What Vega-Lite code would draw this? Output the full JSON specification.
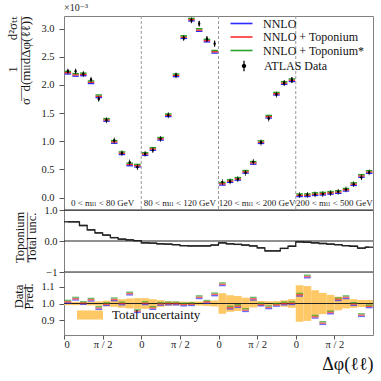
{
  "$schema": "https://vega.github.io/schema/vega-lite/v6.json",
  "padding": {"left": 6, "top": 2, "right": 5, "bottom": 2},
  "background": "white",
  "spacing": 0,
  "bounds": "flush",
  "config": {
    "font": "Liberation Serif, DejaVu Serif, serif",
    "view": {"stroke": "#808080", "strokeWidth": 1},
    "text": {"font": "Liberation Serif, DejaVu Serif, serif"},
    "title": {"font": "Liberation Serif, DejaVu Serif, serif"},
    "axis": {"labelFont": "Liberation Serif, DejaVu Serif, serif", "titleFont": "Liberation Serif, DejaVu Serif, serif", "labelColor": "#222", "titleColor": "#111", "tickColor": "#555", "domain": false, "grid": false, "labelFontSize": 10.5, "titleFontWeight": "normal", "tickSize": 5, "labelPadding": 2},
    "legend": {"labelFont": "Liberation Serif, DejaVu Serif, serif", "labelColor": "#111"}
  },
  "datasets": {
    "bins": [
      {"x": 0.5, "lo": 0, "hi": 1, "d": 2.243, "e": 0.03, "p": 2.219, "r": 1.011, "ulo": 0.990, "uhi": 1.010, "t": 0.62},
      {"x": 1.5, "lo": 1, "hi": 2, "d": 2.243, "e": 0.03, "p": 2.180, "r": 1.029, "ulo": 0.990, "uhi": 1.010, "t": 0.62},
      {"x": 2.5, "lo": 2, "hi": 3, "d": 2.195, "e": 0.03, "p": 2.188, "r": 1.003, "ulo": 0.990, "uhi": 1.010, "t": 0.50},
      {"x": 3.5, "lo": 3, "hi": 4, "d": 2.096, "e": 0.03, "p": 2.049, "r": 1.023, "ulo": 0.989, "uhi": 1.011, "t": 0.36},
      {"x": 4.5, "lo": 4, "hi": 5, "d": 1.752, "e": 0.03, "p": 1.800, "r": 0.973, "ulo": 0.987, "uhi": 1.013, "t": 0.26},
      {"x": 5.5, "lo": 5, "hi": 6, "d": 1.374, "e": 0.03, "p": 1.380, "r": 0.996, "ulo": 0.983, "uhi": 1.017, "t": 0.19},
      {"x": 6.5, "lo": 6, "hi": 7, "d": 1.014, "e": 0.025, "p": 0.989, "r": 1.025, "ulo": 0.980, "uhi": 1.020, "t": 0.11},
      {"x": 7.5, "lo": 7, "hi": 8, "d": 0.789, "e": 0.025, "p": 0.789, "r": 1.000, "ulo": 0.974, "uhi": 1.026, "t": 0.06},
      {"x": 8.5, "lo": 8, "hi": 9, "d": 0.624, "e": 0.022, "p": 0.589, "r": 1.060, "ulo": 0.970, "uhi": 1.030, "t": 0.035},
      {"x": 9.5, "lo": 9, "hi": 10, "d": 0.541, "e": 0.022, "p": 0.567, "r": 0.954, "ulo": 0.968, "uhi": 1.032, "t": 0.01},
      {"x": 10.5, "lo": 10, "hi": 11, "d": 0.777, "e": 0.025, "p": 0.775, "r": 1.002, "ulo": 0.968, "uhi": 1.032, "t": -0.06},
      {"x": 11.5, "lo": 11, "hi": 12, "d": 0.842, "e": 0.025, "p": 0.865, "r": 0.973, "ulo": 0.974, "uhi": 1.026, "t": -0.07},
      {"x": 12.5, "lo": 12, "hi": 13, "d": 1.043, "e": 0.025, "p": 1.045, "r": 0.998, "ulo": 0.980, "uhi": 1.020, "t": -0.09},
      {"x": 13.5, "lo": 13, "hi": 14, "d": 1.463, "e": 0.025, "p": 1.463, "r": 1.000, "ulo": 0.986, "uhi": 1.014, "t": -0.10},
      {"x": 14.5, "lo": 14, "hi": 15, "d": 2.172, "e": 0.03, "p": 2.172, "r": 1.000, "ulo": 0.988, "uhi": 1.012, "t": -0.12},
      {"x": 15.5, "lo": 15, "hi": 16, "d": 2.833, "e": 0.035, "p": 2.850, "r": 0.994, "ulo": 0.989, "uhi": 1.011, "t": -0.15},
      {"x": 16.5, "lo": 16, "hi": 17, "d": 3.147, "e": 0.04, "p": 3.160, "r": 0.996, "ulo": 0.989, "uhi": 1.011, "t": -0.16},
      {"x": 17.5, "lo": 17, "hi": 18, "d": 3.089, "e": 0.045, "p": 2.976, "r": 1.038, "ulo": 0.988, "uhi": 1.012, "t": -0.16},
      {"x": 18.5, "lo": 18, "hi": 19, "d": 2.816, "e": 0.045, "p": 2.788, "r": 1.010, "ulo": 0.985, "uhi": 1.015, "t": -0.16},
      {"x": 19.5, "lo": 19, "hi": 20, "d": 2.734, "e": 0.05, "p": 2.590, "r": 1.055, "ulo": 0.982, "uhi": 1.018, "t": -0.13},
      {"x": 20.5, "lo": 20, "hi": 21, "d": 0.275, "e": 0.02, "p": 0.246, "r": 1.116, "ulo": 0.938, "uhi": 1.062, "t": -0.06},
      {"x": 21.5, "lo": 21, "hi": 22, "d": 0.287, "e": 0.02, "p": 0.294, "r": 0.975, "ulo": 0.950, "uhi": 1.050, "t": -0.09},
      {"x": 22.5, "lo": 22, "hi": 23, "d": 0.328, "e": 0.02, "p": 0.333, "r": 0.985, "ulo": 0.955, "uhi": 1.045, "t": -0.11},
      {"x": 23.5, "lo": 23, "hi": 24, "d": 0.440, "e": 0.02, "p": 0.458, "r": 0.960, "ulo": 0.965, "uhi": 1.035, "t": -0.13},
      {"x": 24.5, "lo": 24, "hi": 25, "d": 0.635, "e": 0.02, "p": 0.617, "r": 1.029, "ulo": 0.976, "uhi": 1.024, "t": -0.16},
      {"x": 25.5, "lo": 25, "hi": 26, "d": 0.979, "e": 0.022, "p": 0.985, "r": 0.994, "ulo": 0.985, "uhi": 1.015, "t": -0.22},
      {"x": 26.5, "lo": 26, "hi": 27, "d": 1.404, "e": 0.025, "p": 1.437, "r": 0.977, "ulo": 0.987, "uhi": 1.013, "t": -0.32},
      {"x": 27.5, "lo": 27, "hi": 28, "d": 1.830, "e": 0.03, "p": 1.845, "r": 0.992, "ulo": 0.986, "uhi": 1.014, "t": -0.32},
      {"x": 28.5, "lo": 28, "hi": 29, "d": 2.035, "e": 0.04, "p": 2.035, "r": 1.000, "ulo": 0.981, "uhi": 1.019, "t": -0.24},
      {"x": 29.5, "lo": 29, "hi": 30, "d": 2.089, "e": 0.05, "p": 2.085, "r": 1.002, "ulo": 0.974, "uhi": 1.026, "t": -0.17},
      {"x": 30.5, "lo": 30, "hi": 31, "d": 0.044, "e": 0.006, "p": 0.042, "r": 1.053, "ulo": 0.890, "uhi": 1.110, "t": -0.03},
      {"x": 31.5, "lo": 31, "hi": 32, "d": 0.050, "e": 0.006, "p": 0.043, "r": 1.163, "ulo": 0.895, "uhi": 1.105, "t": -0.04},
      {"x": 32.5, "lo": 32, "hi": 33, "d": 0.057, "e": 0.006, "p": 0.062, "r": 0.920, "ulo": 0.920, "uhi": 1.080, "t": -0.06},
      {"x": 33.5, "lo": 33, "hi": 34, "d": 0.062, "e": 0.006, "p": 0.070, "r": 0.882, "ulo": 0.936, "uhi": 1.064, "t": -0.08},
      {"x": 34.5, "lo": 34, "hi": 35, "d": 0.080, "e": 0.006, "p": 0.085, "r": 0.946, "ulo": 0.948, "uhi": 1.052, "t": -0.10},
      {"x": 35.5, "lo": 35, "hi": 36, "d": 0.103, "e": 0.006, "p": 0.100, "r": 1.026, "ulo": 0.959, "uhi": 1.041, "t": -0.12},
      {"x": 36.5, "lo": 36, "hi": 37, "d": 0.145, "e": 0.007, "p": 0.140, "r": 1.038, "ulo": 0.970, "uhi": 1.030, "t": -0.15},
      {"x": 37.5, "lo": 37, "hi": 38, "d": 0.239, "e": 0.008, "p": 0.240, "r": 0.997, "ulo": 0.974, "uhi": 1.026, "t": -0.17},
      {"x": 38.5, "lo": 38, "hi": 39, "d": 0.358, "e": 0.01, "p": 0.385, "r": 0.930, "ulo": 0.979, "uhi": 1.021, "t": -0.23},
      {"x": 39.5, "lo": 39, "hi": 40, "d": 0.447, "e": 0.012, "p": 0.455, "r": 0.983, "ulo": 0.979, "uhi": 1.021, "t": -0.20}
    ],
    "regions": [
      {"mid": 5, "label": "0 < mₗₗ < 80 GeV"},
      {"mid": 15, "label": "80 < mₗₗ < 120 GeV"},
      {"mid": 25, "label": "120 < mₗₗ < 200 GeV"},
      {"mid": 35, "label": "200 < mₗₗ < 500 GeV"}
    ],
    "bounds": [{"b": 10}, {"b": 20}, {"b": 30}],
    "refsMid": [{"v": -1}, {"v": 0}, {"v": 1}],
    "refsBot": [{"v": 1}]
  },
  "vconcat": [
    {
      "width": 309,
      "height": 194,
      "title": {"text": "×10⁻³", "anchor": "start", "frame": "group", "fontSize": 10, "fontWeight": "normal", "offset": 3, "color": "#222"},
      "layer": [
        {
          "data": {"name": "bounds"},
          "mark": {"type": "rule", "strokeDash": [3, 2], "color": "#999", "strokeWidth": 1},
          "encoding": {"x": {"field": "b", "type": "quantitative", "scale": {"domain": [0, 40], "nice": false, "zero": false}, "axis": null}}
        },
        {
          "data": {"name": "regions"},
          "mark": {"type": "text", "fontSize": 9, "baseline": "alphabetic", "color": "#222"},
          "encoding": {
            "x": {"field": "mid", "type": "quantitative", "scale": {"domain": [0, 40], "nice": false, "zero": false}, "axis": null},
            "y": {"datum": -0.15, "type": "quantitative", "scale": {"domain": [-0.22, 3.225], "nice": false, "zero": false}, "axis": {"values": [0, 0.5, 1, 1.5, 2, 2.5, 3], "format": ".1f", "labelPadding": 5, "title": ["1\u2003\u2003d²σₜₜ\u2003\u2003", "—\u2002—————", "σ\u2002d(mₗₗdΔφ(ℓℓ))"], "titleAnchor": "end", "titleFontSize": 13, "titleLineHeight": 6.5, "titlePadding": 8}},
            "text": {"field": "label"}
          }
        },
        {
          "data": {"name": "bins"},
          "mark": {"type": "rule", "strokeWidth": 1.4, "xOffset": 0.6, "x2Offset": -0.6, "yOffset": 1.3},
          "encoding": {
            "x": {"field": "lo", "type": "quantitative", "scale": {"domain": [0, 40], "nice": false, "zero": false}, "axis": null},
            "x2": {"field": "hi"},
            "y": {"field": "p", "type": "quantitative", "scale": {"domain": [-0.22, 3.225], "nice": false, "zero": false}, "axis": {"values": [0, 0.5, 1, 1.5, 2, 2.5, 3], "format": ".1f", "labelPadding": 5, "title": ["1\u2003\u2003d²σₜₜ\u2003\u2003", "—\u2002—————", "σ\u2002d(mₗₗdΔφ(ℓℓ))"], "titleAnchor": "end", "titleFontSize": 13, "titleLineHeight": 6.5, "titlePadding": 8}},
            "color": {
              "datum": "NNLO", "type": "nominal",
              "scale": {"domain": ["NNLO", "NNLO + Toponium", "NNLO + Toponium*"], "range": ["#2b2bff", "#ff2b2b", "#2ca02c"]},
              "legend": {
                "orient": "none", "legendX": 171, "legendY": 1, "title": null, "padding": 0,
                "symbolType": "M-2,0H2", "symbolSize": 121, "symbolStrokeWidth": 1.6,
                "labelFontSize": 12, "labelOffset": 15, "rowPadding": 0.5
              }
            }
          }
        },
        {
          "data": {"name": "bins"},
          "mark": {"type": "rule", "strokeWidth": 1.4, "xOffset": 0.6, "x2Offset": -0.6, "yOffset": 0},
          "encoding": {
            "x": {"field": "lo", "type": "quantitative", "scale": {"domain": [0, 40], "nice": false, "zero": false}, "axis": null},
            "x2": {"field": "hi"},
            "y": {"field": "p", "type": "quantitative", "scale": {"domain": [-0.22, 3.225], "nice": false, "zero": false}, "axis": {"values": [0, 0.5, 1, 1.5, 2, 2.5, 3], "format": ".1f", "labelPadding": 5, "title": ["1\u2003\u2003d²σₜₜ\u2003\u2003", "—\u2002—————", "σ\u2002d(mₗₗdΔφ(ℓℓ))"], "titleAnchor": "end", "titleFontSize": 13, "titleLineHeight": 6.5, "titlePadding": 8}},
            "color": {"datum": "NNLO + Toponium", "type": "nominal"}
          }
        },
        {
          "data": {"name": "bins"},
          "mark": {"type": "rule", "strokeWidth": 1.4, "xOffset": 0.6, "x2Offset": -0.6, "yOffset": -1.3},
          "encoding": {
            "x": {"field": "lo", "type": "quantitative", "scale": {"domain": [0, 40], "nice": false, "zero": false}, "axis": null},
            "x2": {"field": "hi"},
            "y": {"field": "p", "type": "quantitative", "scale": {"domain": [-0.22, 3.225], "nice": false, "zero": false}, "axis": {"values": [0, 0.5, 1, 1.5, 2, 2.5, 3], "format": ".1f", "labelPadding": 5, "title": ["1\u2003\u2003d²σₜₜ\u2003\u2003", "—\u2002—————", "σ\u2002d(mₗₗdΔφ(ℓℓ))"], "titleAnchor": "end", "titleFontSize": 13, "titleLineHeight": 6.5, "titlePadding": 8}},
            "color": {"datum": "NNLO + Toponium*", "type": "nominal"}
          }
        },
        {
          "data": {"name": "bins"},
          "mark": {"type": "errorbar", "ticks": false, "thickness": 1.2, "color": "black"},
          "encoding": {
            "x": {"field": "x", "type": "quantitative", "scale": {"domain": [0, 40], "nice": false, "zero": false}, "axis": null},
            "y": {"field": "d", "type": "quantitative", "scale": {"domain": [-0.22, 3.225], "nice": false, "zero": false}, "axis": {"values": [0, 0.5, 1, 1.5, 2, 2.5, 3], "format": ".1f", "labelPadding": 5, "title": ["1\u2003\u2003d²σₜₜ\u2003\u2003", "—\u2002—————", "σ\u2002d(mₗₗdΔφ(ℓℓ))"], "titleAnchor": "end", "titleFontSize": 13, "titleLineHeight": 6.5, "titlePadding": 8}},
            "yError": {"field": "e"}
          }
        },
        {
          "data": {"name": "bins"},
          "mark": {"type": "point", "filled": true, "color": "black", "size": 34, "opacity": 1},
          "encoding": {
            "x": {"field": "x", "type": "quantitative", "scale": {"domain": [0, 40], "nice": false, "zero": false}, "axis": null},
            "y": {"field": "d", "type": "quantitative", "scale": {"domain": [-0.22, 3.225], "nice": false, "zero": false}, "axis": {"values": [0, 0.5, 1, 1.5, 2, 2.5, 3], "format": ".1f", "labelPadding": 5, "title": ["1\u2003\u2003d²σₜₜ\u2003\u2003", "—\u2002—————", "σ\u2002d(mₗₗdΔφ(ℓℓ))"], "titleAnchor": "end", "titleFontSize": 13, "titleLineHeight": 6.5, "titlePadding": 8}},
            "shape": {
              "datum": "ATLAS Data", "type": "nominal",
              "scale": {"range": ["M-0.12,-1H0.12V1H-0.12Z M-0.42,0A0.42,0.42,0,1,1,0.42,0A0.42,0.42,0,1,1,-0.42,0"]},
              "legend": {
                "orient": "none", "legendX": 174, "legendY": 44, "title": null, "padding": 0,
                "symbolSize": 110, "symbolFillColor": "black", "symbolStrokeWidth": 0,
                "labelFontSize": 12, "labelOffset": 14
              }
            }
          }
        }
      ]
    },
    {
      "width": 309,
      "height": 62,
      "layer": [
        {
          "data": {"name": "refsMid"},
          "mark": {"type": "rule", "color": "#222", "strokeWidth": 1},
          "encoding": {
            "y": {"field": "v", "type": "quantitative", "scale": {"domain": [-1, 1], "nice": false, "zero": false}, "axis": {"values": [-1, 0, 1], "labelExpr": "datum.value < 0 ? '−1' : datum.label", "title": ["Toponium", "————", "Total unc."], "titleFontSize": 12.5, "titleLineHeight": 6, "titlePadding": 5, "titleY": 27}}
          }
        },
        {
          "data": {"name": "bins"},
          "mark": {"type": "line", "interpolate": "step", "color": "#222", "strokeWidth": 1.3},
          "encoding": {
            "x": {"field": "x", "type": "quantitative", "scale": {"domain": [0, 40], "nice": false, "zero": false}, "axis": null},
            "y": {"field": "t", "type": "quantitative", "scale": {"domain": [-1, 1], "nice": false, "zero": false}, "axis": {"values": [-1, 0, 1], "labelExpr": "datum.value < 0 ? '−1' : datum.label", "title": ["Toponium", "————", "Total unc."], "titleFontSize": 12.5, "titleLineHeight": 6, "titlePadding": 5, "titleY": 27}}
          }
        },
        {
          "data": {"name": "bins"},
          "mark": {"type": "rule", "color": "#222", "strokeWidth": 1.3},
          "encoding": {
            "x": {"field": "lo", "type": "quantitative", "scale": {"domain": [0, 40], "nice": false, "zero": false}, "axis": null},
            "x2": {"field": "hi"},
            "y": {"field": "t", "type": "quantitative", "scale": {"domain": [-1, 1], "nice": false, "zero": false}, "axis": {"values": [-1, 0, 1], "labelExpr": "datum.value < 0 ? '−1' : datum.label", "title": ["Toponium", "————", "Total unc."], "titleFontSize": 12.5, "titleLineHeight": 6, "titlePadding": 5, "titleY": 27}}
          }
        }
      ]
    },
    {
      "width": 309,
      "height": 63,
      "layer": [
        {
          "data": {"name": "bins"},
          "mark": {"type": "rect"},
          "encoding": {
            "x": {"field": "lo", "type": "quantitative", "scale": {"domain": [0, 40], "nice": false, "zero": false}, "axis": {"values": [0, 5, 10, 15, 20, 25, 30, 35], "labelExpr": "datum.value % 10 === 0 ? '0' : 'π / 2'", "title": "Δφ(ℓℓ)", "titleAnchor": "end", "titleFontSize": 18, "titlePadding": 6, "tickSize": 4, "labelPadding": 0}},
            "x2": {"field": "hi"},
            "y": {"field": "ulo", "type": "quantitative", "scale": {"domain": [0.81, 1.19], "nice": false, "zero": false}, "axis": {"values": [0.9, 1.0, 1.1], "format": ".1f", "labelPadding": 5, "title": ["Data", "——", "Pred."], "titleFontSize": 12.5, "titleLineHeight": 5, "titlePadding": 5, "titleY": 24}},
            "y2": {"field": "uhi"},
            "fill": {
              "datum": "Total uncertainty", "type": "nominal",
              "scale": {"range": ["#fec867"]},
              "legend": {"orient": "none", "legendX": 13, "legendY": 286, "title": null, "padding": 0, "symbolType": "M-1,-0.35H1V0.35H-1Z", "symbolSize": 676, "symbolStrokeWidth": 0, "labelFontSize": 13, "labelOffset": 9}
            }
          }
        },
        {
          "data": {"name": "refsBot"},
          "mark": {"type": "rule", "color": "#222", "strokeWidth": 1},
          "encoding": {
            "y": {"field": "v", "type": "quantitative", "scale": {"domain": [0.81, 1.19], "nice": false, "zero": false}, "axis": {"values": [0.9, 1.0, 1.1], "format": ".1f", "labelPadding": 5, "title": ["Data", "——", "Pred."], "titleFontSize": 12.5, "titleLineHeight": 5, "titlePadding": 5, "titleY": 24}}
          }
        },
        {
          "data": {"name": "bins"},
          "mark": {"type": "tick", "orient": "horizontal", "size": 6.8, "thickness": 1.4, "yOffset": 1.3, "color": "#2b2bff"},
          "encoding": {
            "x": {"field": "x", "type": "quantitative", "scale": {"domain": [0, 40], "nice": false, "zero": false}, "axis": {"values": [0, 5, 10, 15, 20, 25, 30, 35], "labelExpr": "datum.value % 10 === 0 ? '0' : 'π / 2'", "title": "Δφ(ℓℓ)", "titleAnchor": "end", "titleFontSize": 18, "titlePadding": 6, "tickSize": 4, "labelPadding": 0}},
            "y": {"field": "r", "type": "quantitative", "scale": {"domain": [0.81, 1.19], "nice": false, "zero": false}, "axis": {"values": [0.9, 1.0, 1.1], "format": ".1f", "labelPadding": 5, "title": ["Data", "——", "Pred."], "titleFontSize": 12.5, "titleLineHeight": 5, "titlePadding": 5, "titleY": 24}}
          }
        },
        {
          "data": {"name": "bins"},
          "mark": {"type": "tick", "orient": "horizontal", "size": 6.8, "thickness": 1.4, "yOffset": 0, "color": "#ff2b2b"},
          "encoding": {
            "x": {"field": "x", "type": "quantitative", "scale": {"domain": [0, 40], "nice": false, "zero": false}, "axis": {"values": [0, 5, 10, 15, 20, 25, 30, 35], "labelExpr": "datum.value % 10 === 0 ? '0' : 'π / 2'", "title": "Δφ(ℓℓ)", "titleAnchor": "end", "titleFontSize": 18, "titlePadding": 6, "tickSize": 4, "labelPadding": 0}},
            "y": {"field": "r", "type": "quantitative", "scale": {"domain": [0.81, 1.19], "nice": false, "zero": false}, "axis": {"values": [0.9, 1.0, 1.1], "format": ".1f", "labelPadding": 5, "title": ["Data", "——", "Pred."], "titleFontSize": 12.5, "titleLineHeight": 5, "titlePadding": 5, "titleY": 24}}
          }
        },
        {
          "data": {"name": "bins"},
          "mark": {"type": "tick", "orient": "horizontal", "size": 6.8, "thickness": 1.4, "yOffset": -1.3, "color": "#2ca02c"},
          "encoding": {
            "x": {"field": "x", "type": "quantitative", "scale": {"domain": [0, 40], "nice": false, "zero": false}, "axis": {"values": [0, 5, 10, 15, 20, 25, 30, 35], "labelExpr": "datum.value % 10 === 0 ? '0' : 'π / 2'", "title": "Δφ(ℓℓ)", "titleAnchor": "end", "titleFontSize": 18, "titlePadding": 6, "tickSize": 4, "labelPadding": 0}},
            "y": {"field": "r", "type": "quantitative", "scale": {"domain": [0.81, 1.19], "nice": false, "zero": false}, "axis": {"values": [0.9, 1.0, 1.1], "format": ".1f", "labelPadding": 5, "title": ["Data", "——", "Pred."], "titleFontSize": 12.5, "titleLineHeight": 5, "titlePadding": 5, "titleY": 24}}
          }
        }
      ]
    }
  ]
}
